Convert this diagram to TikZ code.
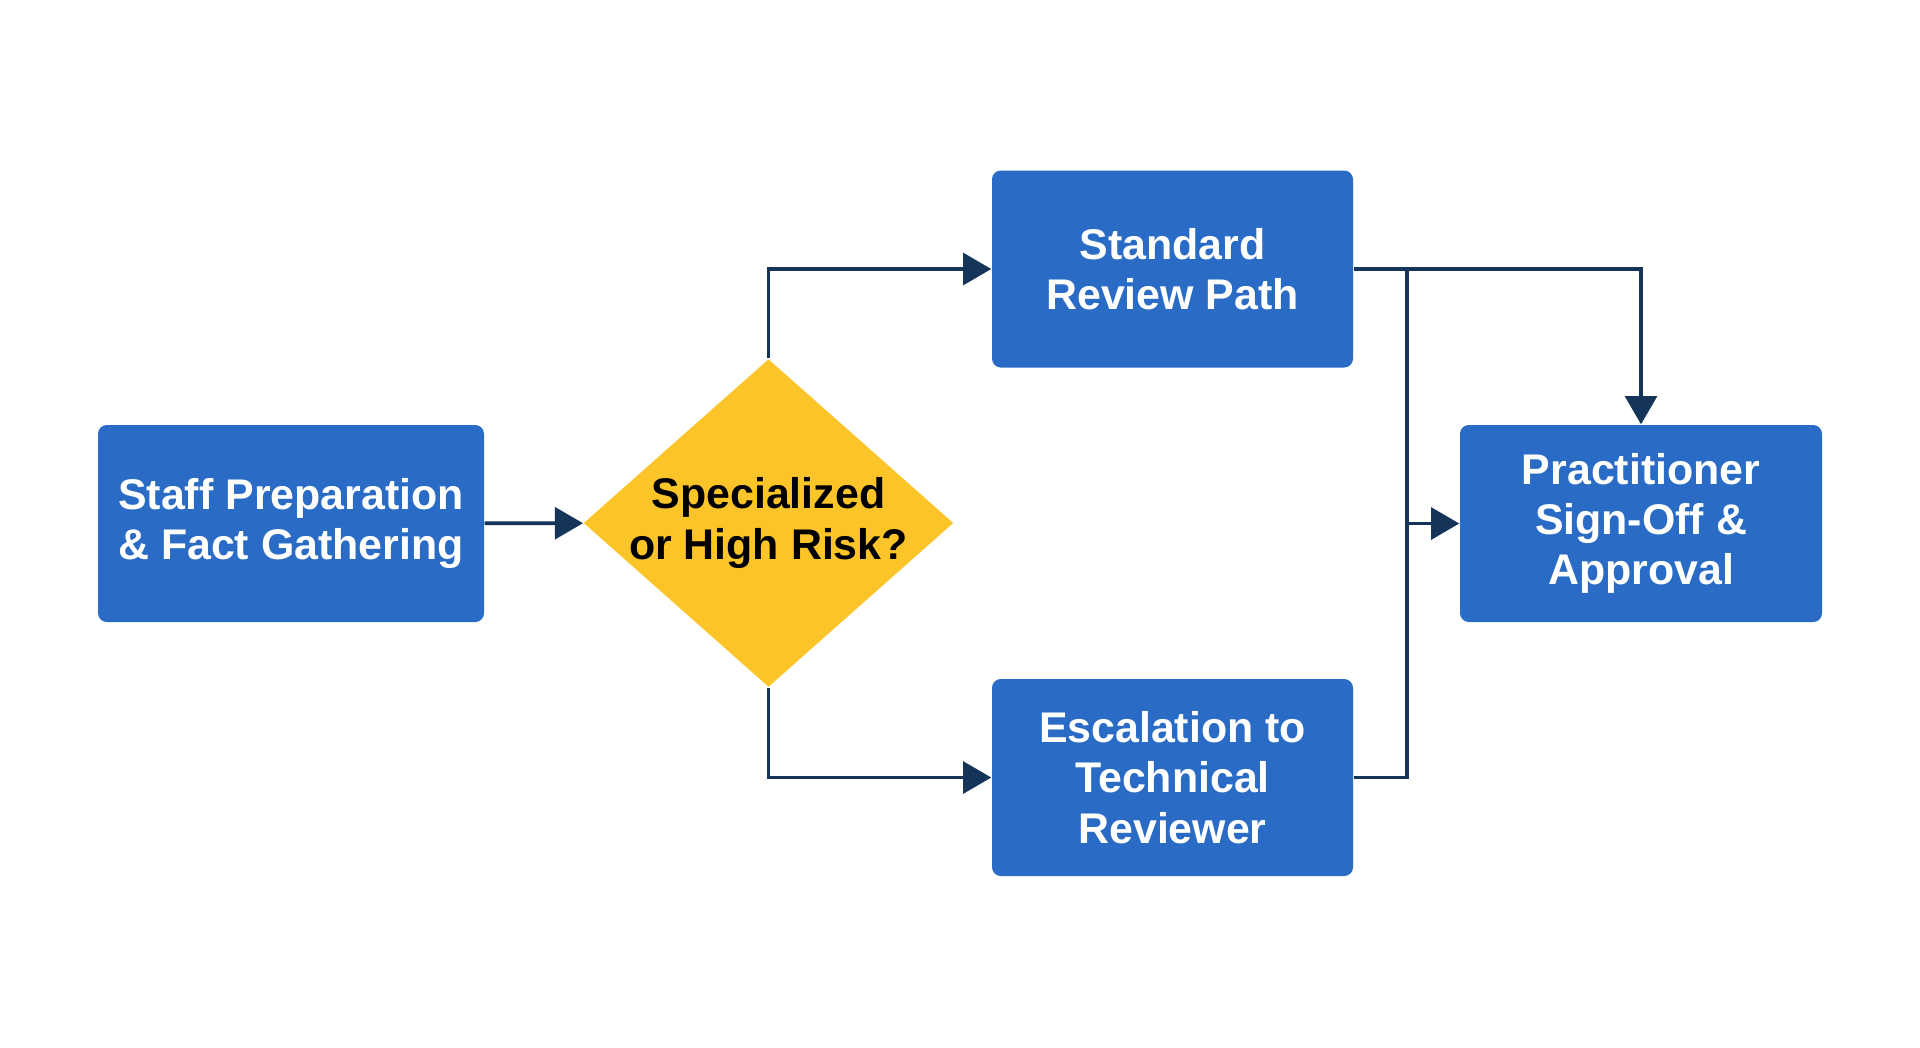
\documentclass[tikz,border=0pt]{standalone}
\usepackage{fontspec}
\setmainfont{Liberation Sans}
\usepackage{xcolor}
\usetikzlibrary{calc,arrows.meta,shapes.geometric}
\definecolor{stepBlue}{RGB}{42,108,197}
\definecolor{askYellow}{RGB}{251,196,40}
\definecolor{lineNavy}{RGB}{20,52,88}

\begin{document}
\begin{tikzpicture}
\tikzset{
  stepbox/.style={rectangle,rounded corners=2.5pt,fill=stepBlue,text=white,
    minimum height=1.97cm,align=center,inner sep=0pt,
    font=\fontsize{12.2}{14.3}\selectfont\bfseries},
  askbox/.style={diamond,fill=askYellow,text=black,inner sep=-2.5pt,aspect=1.128,
    minimum width=3.70cm,minimum height=3.28cm,align=center,
    font=\fontsize{12.2}{14.3}\selectfont\bfseries},
  flow/.style={draw=lineNavy,line width=1.1pt,
    -{Triangle[length=8pt,width=9pt]}},
  wire/.style={draw=lineNavy,line width=1.1pt}
}
\useasboundingbox[fill=white] (0,0) rectangle (19.2,-10.47);
\node[stepbox,minimum width=3.86cm] (prep) at (2.91,-5.235) {Staff Preparation\\\& Fact Gathering};
\node[askbox] (decide) at (7.685,-5.23) {Specialized\\or High Risk?};
\node[stepbox,minimum width=3.61cm] (standard) at (11.725,-2.69) {Standard\\Review Path};
\node[stepbox,minimum width=3.61cm] (escal) at (11.725,-7.775) {Escalation to\\Technical\\Reviewer};
\node[stepbox,minimum width=3.62cm] (signoff) at (16.41,-5.235) {Practitioner\\Sign-Off \&\\Approval};
% merge line between the two review paths
\coordinate (jtop) at ($(standard.east)+(0.53,0)$);
\coordinate (jmid) at (jtop |- signoff.west);
\draw[flow] (prep) -- (decide);
\draw[flow] (decide.north) |- (standard.west);
\draw[flow] (decide.south) |- (escal.west);
\draw[flow] (standard.east) -| (signoff.north);
\draw[wire] (escal.east) -| (jtop);
\draw[flow] (jmid) -- (signoff.west);
\end{tikzpicture}
\end{document}
